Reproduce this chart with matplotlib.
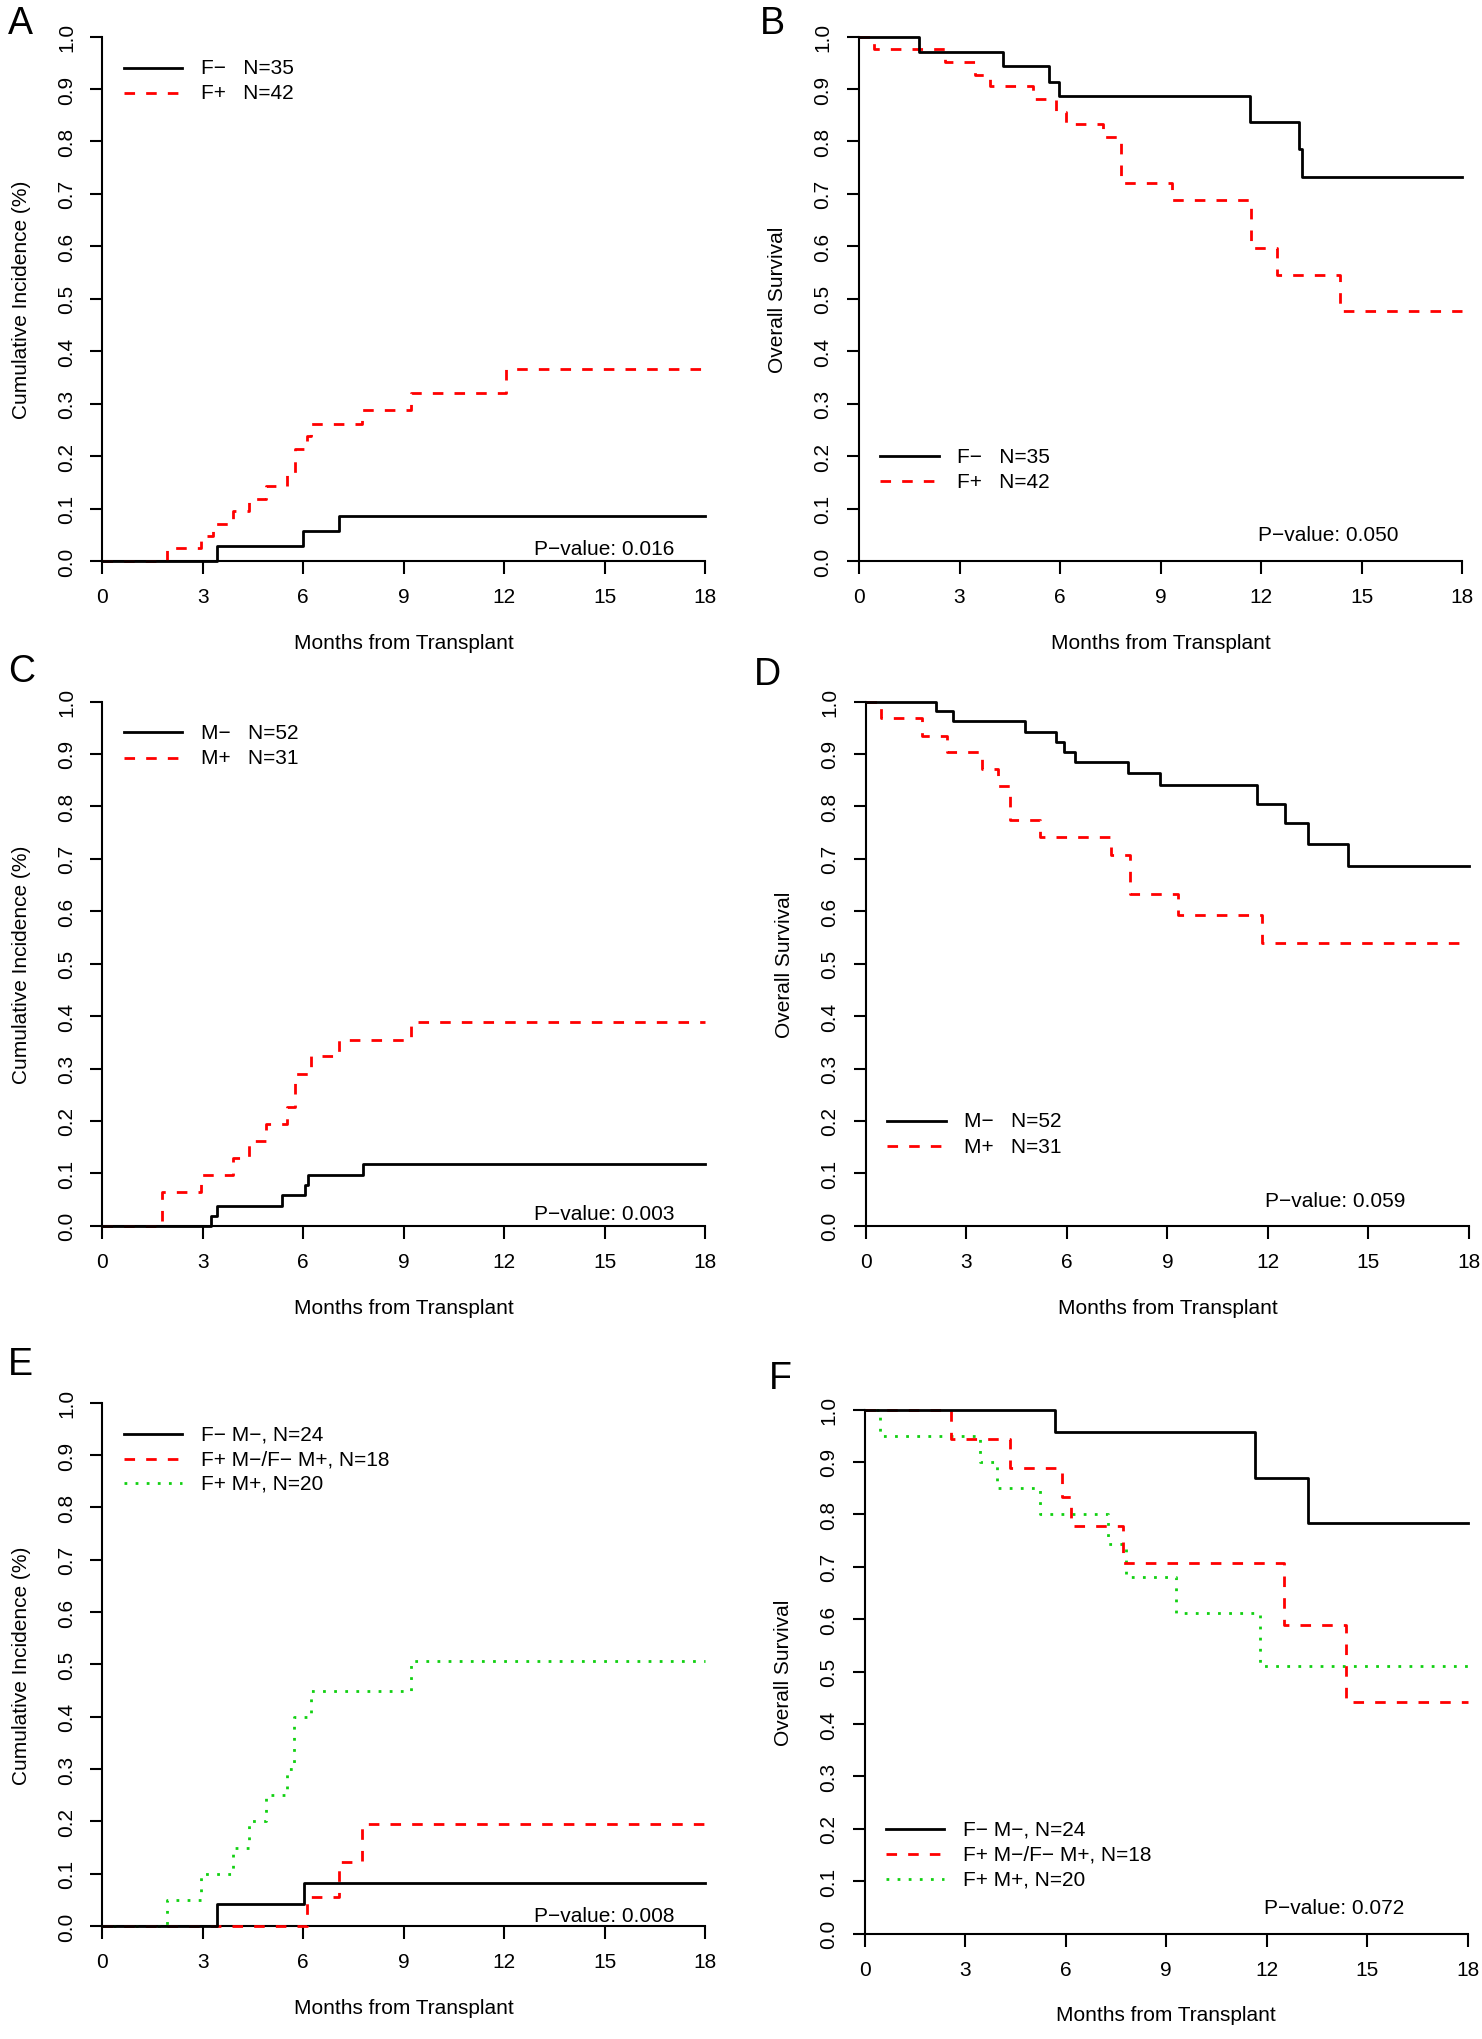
import matplotlib
matplotlib.use("Agg")
import matplotlib.pyplot as plt

plt.rcParams["font.family"] = ["Liberation Sans", "DejaVu Sans"]
plt.rcParams["font.size"] = 15

MINUS = "\u2212"

# ---- panel A: cumulative incidence by F status
a_neg_t = [3.42, 6.0, 7.07]
a_neg_v = [0.0286, 0.0571, 0.0857]
a_pos_t = [1.93, 2.96, 3.31, 3.9, 4.38, 4.89, 5.51, 5.76, 6.1, 6.24, 7.76, 9.23, 12.07]
a_pos_v = [0.024, 0.048, 0.071, 0.095, 0.119, 0.143, 0.167, 0.214, 0.238, 0.262, 0.288, 0.321, 0.367]

# ---- panel B: overall survival by F status
b_neg_t = [1.8, 4.3, 5.68, 5.96, 11.68, 13.13, 13.23]
b_neg_v = [0.971, 0.943, 0.914, 0.886, 0.837, 0.785, 0.733]
b_pos_t = [0.45, 2.58, 3.45, 3.9, 5.18, 5.89, 6.18, 7.27, 7.81, 9.33, 11.71, 12.49, 14.37]
b_pos_v = [0.976, 0.951, 0.927, 0.905, 0.881, 0.857, 0.833, 0.808, 0.72, 0.689, 0.597, 0.546, 0.477]

# ---- panel C: cumulative incidence by M status
c_neg_t = [3.24, 3.42, 5.35, 6.04, 6.13, 7.79]
c_neg_v = [0.019, 0.038, 0.058, 0.077, 0.096, 0.117]
c_pos_t = [1.79, 2.96, 3.9, 4.38, 4.89, 5.51, 5.76, 6.24, 7.07, 9.23]
c_pos_v = [0.065, 0.097, 0.129, 0.161, 0.194, 0.226, 0.290, 0.323, 0.355, 0.389]

# ---- panel D: overall survival by M status
d_neg_t = [2.09, 2.59, 4.76, 5.68, 5.9, 6.25, 7.81, 8.78, 11.69, 12.5, 13.21, 14.39]
d_neg_v = [0.981, 0.962, 0.942, 0.923, 0.904, 0.885, 0.863, 0.840, 0.804, 0.768, 0.728, 0.687]
d_pos_t = [0.45, 1.66, 2.41, 3.45, 3.95, 4.3, 5.21, 7.32, 7.88, 9.33, 11.82]
d_pos_v = [0.968, 0.935, 0.903, 0.871, 0.839, 0.774, 0.742, 0.707, 0.632, 0.592, 0.539]

# ---- panel E: cumulative incidence, combined groups
e_neg_t = [3.42, 6.01]
e_neg_v = [0.042, 0.083]
e_mix_t = [6.1, 7.07, 7.76]
e_mix_v = [0.056, 0.122, 0.195]
e_pos_t = [1.93, 2.96, 3.9, 4.38, 4.89, 5.51, 5.73, 6.24, 9.23]
e_pos_v = [0.05, 0.10, 0.15, 0.20, 0.25, 0.30, 0.40, 0.45, 0.506]

# ---- panel F: overall survival, combined groups
f_neg_t = [5.68, 11.66, 13.22]
f_neg_v = [0.958, 0.870, 0.784]
f_mix_t = [2.57, 4.33, 5.89, 6.17, 7.72, 12.51, 14.35]
f_mix_v = [0.944, 0.889, 0.833, 0.778, 0.707, 0.589, 0.442]
f_pos_t = [0.47, 3.45, 3.95, 5.22, 7.25, 7.8, 9.29, 11.8]
f_pos_v = [0.95, 0.90, 0.85, 0.80, 0.744, 0.68, 0.612, 0.51]

labels_f = [f"F{MINUS}   N=35", "F+   N=42"]
labels_m = [f"M{MINUS}   N=52", "M+   N=31"]
labels_fm = [f"F{MINUS} M{MINUS}, N=24", f"F+ M{MINUS}/F{MINUS} M+, N=18", "F+ M+, N=20"]
pvalues = ["0.016", "0.050", "0.003", "0.059", "0.008", "0.072"]

x_ticks = [0, 3, 6, 9, 12, 15, 18]
y_ticks = [i / 10 for i in range(11)]
T_MAX = 18

STYLES = [
    dict(color="black", lw=2.0, ls="-"),
    dict(color="#ff0000", lw=2.0, ls=(0, (3.8, 4.0))),
    dict(color="#11d011", lw=2.0, ls=(0, (1.0, 3.0))),
]

W, H = 1482, 2040
fig = plt.figure(figsize=(W / 100, H / 100), dpi=100)


def axes_px(x0, x1, ytop, ybot):
    return fig.add_axes([x0 / W, 1 - ybot / H, (x1 - x0) / W, (ybot - ytop) / H])


def curve(ax, times, vals, start, style):
    xs = [0] + list(times) + [T_MAX]
    ys = [start] + list(vals) + [vals[-1]]
    ax.step(xs, ys, where="post", clip_on=False, zorder=3, **style)


def style_axes(ax, ylabel):
    ax.set_xlim(0, T_MAX)
    ax.set_ylim(0, 1)
    for s in ("top", "right"):
        ax.spines[s].set_visible(False)
    for s in ("left", "bottom"):
        ax.spines[s].set_linewidth(1.5)
    ax.set_xticks(x_ticks)
    ax.set_yticks(y_ticks)
    ax.set_yticklabels([f"{v:.1f}" for v in y_ticks])
    ax.tick_params(length=9, width=1.5, pad=10, labelsize=15)
    ax.tick_params(axis="y", labelrotation=90)
    for lab in ax.get_yticklabels():
        lab.set_va("center")
    ax.set_xlabel("Months from Transplant", fontsize=15, labelpad=19)
    ax.set_ylabel(ylabel, fontsize=15, labelpad=19)


def legend(ax, labels, rows):
    for i, (lab, y) in enumerate(zip(labels, rows)):
        ax.plot([0.64, 2.38], [y, y], **STYLES[i])
        ax.text(2.94, y, lab, va="center", ha="left", fontsize=15)


top_rows = [0.941, 0.893, 0.846]
bot_rows = [0.200, 0.152, 0.104]
CI = "Cumulative Incidence (%)"
OS = "Overall Survival"

panels = [
    # letter, box, ylabel, series, start, legend labels, legend rows, pvalue pos
    ("A", (102.4, 705, 37.6, 562), CI, [(a_neg_t, a_neg_v), (a_pos_t, a_pos_v)], 0.0,
     labels_f, top_rows, (15, 0.024), (8, 24.5)),
    ("B", (859, 1462, 37.6, 562), OS, [(b_neg_t, b_neg_v), (b_pos_t, b_pos_v)], 1.0,
     labels_f, bot_rows, (14, 0.05), (760, 23.5)),
    ("C", (102.4, 705, 702.5, 1226.8), CI, [(c_neg_t, c_neg_v), (c_pos_t, c_pos_v)], 0.0,
     labels_m, top_rows, (15, 0.023), (8, 672)),
    ("D", (866, 1468.8, 702.5, 1226.8), OS, [(d_neg_t, d_neg_v), (d_pos_t, d_pos_v)], 1.0,
     labels_m, bot_rows, (14, 0.049), (754, 675)),
    ("E", (102.4, 705, 1403.8, 1927), CI,
     [(e_neg_t, e_neg_v), (e_mix_t, e_mix_v), (e_pos_t, e_pos_v)], 0.0,
     labels_fm, top_rows, (15, 0.02), (8, 1365)),
    ("F", (864.6, 1467.9, 1410.5, 1934.6), OS,
     [(f_neg_t, f_neg_v), (f_mix_t, f_mix_v), (f_pos_t, f_pos_v)], 1.0,
     labels_fm, bot_rows, (14, 0.049), (769, 1379)),
]

for k, (letter, box, ylab, series, start, labs, rows, ppos, lpos) in enumerate(panels):
    ax = axes_px(*box)
    style_axes(ax, ylab)
    # draw the later groups first so the black curve sits on top, like R's overplot order
    for i in reversed(range(len(series))):
        t, v = series[i]
        curve(ax, t, v, start, STYLES[i])
    legend(ax, labs, rows)
    ax.text(ppos[0], ppos[1], f"P{MINUS}value: {pvalues[k]}", ha="center", va="center",
            fontsize=15)
    fig.text(lpos[0] / W, 1 - lpos[1] / H, letter, fontsize=27, ha="left", va="center")

fig.savefig("out.png", dpi=100)
